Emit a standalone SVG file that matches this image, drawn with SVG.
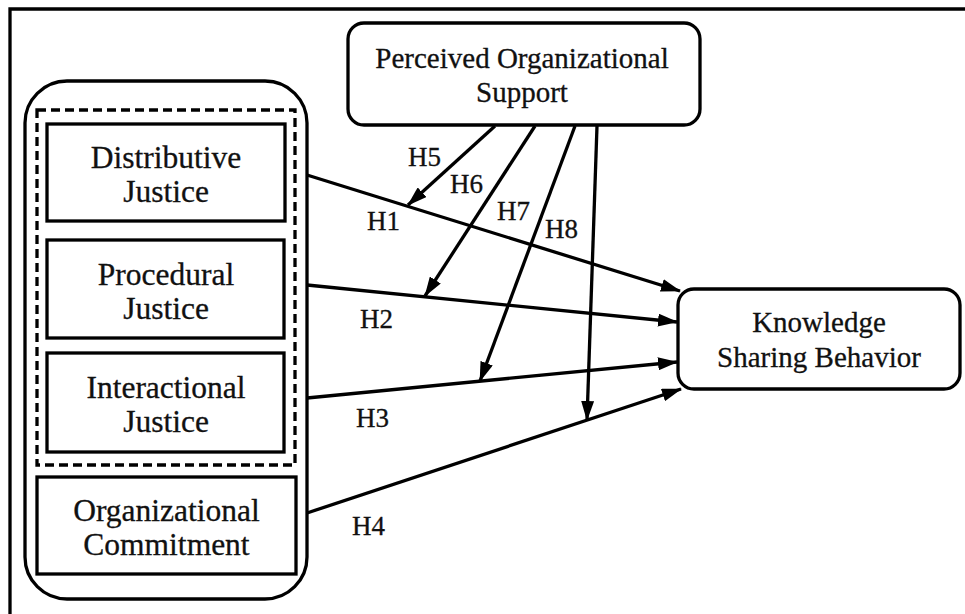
<svg xmlns="http://www.w3.org/2000/svg" width="965" height="614" viewBox="0 0 965 614">
<style>
.box{fill:#fff;stroke:#000;stroke-width:3.3}
.t{font-family:"Liberation Serif","Times New Roman",serif;fill:#111;text-anchor:middle;stroke:#111;stroke-width:0.3}
.l{font-size:31.5px}
.r{font-size:29px}
.h{font-family:"Liberation Serif","Times New Roman",serif;fill:#111;font-size:27px;stroke:#111;stroke-width:0.3}
.c{fill:none;stroke:#000;stroke-width:3.3;marker-end:url(#ah)}
</style>
<defs>
<marker id="ah" viewBox="0 0 20 13" refX="19" refY="6.5" markerWidth="20" markerHeight="13" markerUnits="userSpaceOnUse" orient="auto">
<path d="M0,0 L20,6.5 L0,13 Z" fill="#000"/>
</marker>
</defs>
<rect width="965" height="614" fill="#fff"/>
<path d="M10,614 L10,9 L965,9" fill="none" stroke="#000" stroke-width="3.3"/>
<g id="group-outer">
<rect x="25" y="81" width="282" height="518" rx="42" class="box"/>
<rect x="37" y="110" width="258" height="355" fill="none" stroke="#000" stroke-width="3.3" stroke-dasharray="9,5"/>
</g>
<g id="node-dj">
<rect x="47" y="124" width="238" height="97" class="box"/>
<text class="t l" x="166" y="168">Distributive</text>
<text class="t l" x="166" y="202">Justice</text>
</g>
<g id="node-pj">
<rect x="47" y="240" width="237" height="98" class="box"/>
<text class="t l" x="166" y="285">Procedural</text>
<text class="t l" x="166" y="319">Justice</text>
</g>
<g id="node-ij">
<rect x="47" y="353" width="237" height="99" class="box"/>
<text class="t l" x="166" y="398">Interactional</text>
<text class="t l" x="166" y="432">Justice</text>
</g>
<g id="node-oc">
<rect x="37" y="477" width="259" height="97" class="box"/>
<text class="t l" x="166.5" y="521">Organizational</text>
<text class="t l" x="166.5" y="555">Commitment</text>
</g>
<g id="node-pos">
<rect x="348" y="23" width="352" height="102" rx="16" class="box"/>
<text class="t r" x="522" y="68">Perceived Organizational</text>
<text class="t r" x="522" y="102">Support</text>
</g>
<g id="node-ksb">
<rect x="678" y="289" width="282" height="100" rx="16" class="box"/>
<text class="t r" x="819" y="332">Knowledge</text>
<text class="t r" x="819" y="367">Sharing Behavior</text>
</g>
<g id="connectors">
<line class="c" x1="307" y1="175" x2="680" y2="291"/>
<line class="c" x1="307" y1="285" x2="677" y2="322"/>
<line class="c" x1="307" y1="398" x2="677" y2="362"/>
<line class="c" x1="307" y1="513" x2="681" y2="389"/>
<line class="c" x1="495" y1="126" x2="408" y2="205"/>
<line class="c" x1="535" y1="126" x2="425" y2="296"/>
<line class="c" x1="575" y1="126" x2="480" y2="381"/>
<line class="c" x1="597" y1="126" x2="587" y2="420"/>
</g>
<g id="labels">
<text class="h" x="367" y="230">H1</text>
<text class="h" x="360" y="328">H2</text>
<text class="h" x="356" y="427">H3</text>
<text class="h" x="352" y="535">H4</text>
<text class="h" x="408" y="166">H5</text>
<text class="h" x="450" y="193">H6</text>
<text class="h" x="497" y="220">H7</text>
<text class="h" x="545" y="238">H8</text>
</g>
</svg>
